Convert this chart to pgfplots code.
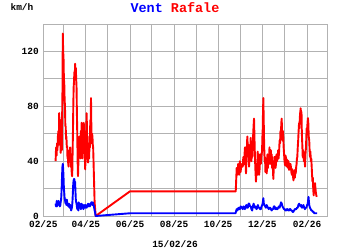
\documentclass[border=0pt]{standalone}
\usepackage{pgfplots}
\pgfplotsset{compat=1.18}
\usepackage{fontspec}
\setmainfont{Liberation Mono}
\definecolor{gridg}{RGB}{178,178,178}
\definecolor{vblue}{RGB}{0,0,255}
\definecolor{rred}{RGB}{255,0,0}
\pgfplotstableread{
d v
17 40
17.7 50
18.4 44
19 53
19.6 48
20.2 58
21 62
21.6 52
22 75
22.6 63
23 60
23.6 70
24 46
24.6 52
25 55
25.6 48
26 70
26.5 90
27 133
27.5 120
28 115
28.5 100
29 97
29.5 85
30 80
30.5 66
31 65
31.5 56
32 58
32.5 50
33 51
33.5 42
34 45
34.5 38
35 36
35.5 46
36 48
36.5 40
37 50
37.5 44
38 42
38.5 36
39 35
39.5 30
40 29
40.5 45
41 60
41.5 80
42 94
42.5 98
43 105
43.5 100
44 111
44.6 104
45 108
45.5 100
46 94
46.5 75
47 60
47.5 40
48 29
48.5 38
49 45
49.5 55
50 58
50.5 46
51 50
51.5 42
52 62
52.5 55
53 68
53.5 50
54 42
54.5 60
55 55
55.5 46
56 68
56.5 60
57 52
57.5 42
58 34
58.5 45
59 55
59.5 65
60 75
60.5 60
61 50
61.5 40
62 39
62.5 52
63 48
63.5 42
64 58
64.5 50
65 70
65.5 60
66 86
66.5 65
67 53
67.5 60
68 58
68.5 52
69 50
70 30
71 10
72.5 0
120 18
266.3 18
267.6 35
268.3 30
269 31
269.6 38
270.2 35
271 30
272 40
272.6 35
273 32
274 37
275 38
276 36
276.8 43
277.4 38
278 38
278.6 46
279.1 50
279.8 40
280.5 31
281.4 45
282.3 58
283 50
283.5 45
284.1 52
284.7 36
285.4 42
286 50
286.5 45
287 57
287.6 48
288 40
288.6 46
289.2 43
289.9 52
290.5 60
291 66
291.6 71
292.1 60
292.5 50
293.4 35
294.3 25
295.3 38
296 30
296.7 47
297.3 40
298 40
298.6 30
299.3 34
300 45
300.5 38
301 38
301.8 44
302.7 47
303.2 58
303.5 60
304 75
304.5 86
305 70
305.5 55
306.2 40
306.8 43
307.4 32
308 35
308.6 42
309.2 31
309.7 40
310.2 45
310.8 35
311.4 43
312.2 38
313 50
313.5 42
314 38
314.8 48
315.5 40
316.1 45
316.7 35
317.3 40
318.3 27
319 36
319.8 43
320.6 43
321.3 35
322 38
322.7 45
323.5 40
324.4 43
325 48
325.6 42
326.3 47
327 55
327.6 53
328.2 62
328.8 60
329.4 68
329.9 71
330.4 60
331 55
331.5 62
332.1 58
332.6 50
333.2 45
333.8 40
334.5 37
335.2 44
336 42
336.7 36
337.4 41
338 38
338.7 35
339.3 40
340 33.6
340.7 38
341.3 34
342 38
342.6 36
343.3 32
344 30
344.8 34
345.5 29
346.2 26
346.9 30
347.5 33
348.2 28
348.8 34
349.3 31
350 36
350.5 38
351 42
351.5 43
352.1 50
352.7 55
353.3 62
353.9 67.7
354.4 64
355 72
355.6 76
356.2 78.6
356.8 72
357.3 76
357.8 60
358.4 52
359 43
359.7 48
360.5 40
361.3 44
362.2 36
362.8 45
363.5 50
364 58
364.5 64
365 60
365.6 68
366.2 71.4
366.7 68
367.3 58
368 55
368.5 48
369.1 43
369.6 47
370.2 40
370.8 42
371.4 36
371.9 30
372.5 25
373 28
373.6 19
374.2 15
374.8 22
375.4 19
376 24
376.6 20
377.2 17
377.8 15
378.4 14
}\rafale
\pgfplotstableread{
d v
17 9
17.6 7
18 8
18.6 11
19 7
19.6 9
20 10
20.6 8
21 11
21.6 9
22 8
22.6 10
23 7
23.6 8
24 10
24.6 12
25 15
25.5 22
26 30
26.5 36
27 38
27.5 34
28 28
28.5 20
29 17
29.5 13
30 12
30.5 10
31 9
31.5 11
32 8
32.5 12
33 10
33.5 8
34 9
34.5 7
35 7
35.5 9
36 8
36.5 6
37 6
37.5 8
38 6
38.5 4
39 5
39.5 6
40 8
40.5 12
41 18
41.5 24
42 26
42.5 27
43 27
43.5 24
44 25
44.5 18
45 12
45.5 10
46 9
46.5 7
47 5
47.5 7
48 8
48.5 4
49 10
49.5 7
50 6
50.5 9
51 8
51.5 6
52 5
52.5 8
53 9
53.5 7
54 6
54.5 8
55 7
55.5 5
56 8
56.5 7
57 6
57.5 8
58 7
58.5 6
59 8
59.5 7
60 6
60.5 7
61 8
61.5 7
62 9
62.5 8
63 7
63.5 8
64 8
64.5 7
65 9
65.5 8
66 9
66.5 10
67 10
67.5 9
68 8
68.5 10
69 9
70 7
72.5 0
120 2
266 2
267.6 5
268.5 4
270 6
271 5
272 5
273 7
275 6
276 5
277 7
278 6
279 5
280 7
281 8
282 6
283 6
284 9
285 9
286 7
287 7
288 5
289 4
290 7
291 9
292 7
293 6
294 7
295 5
296 6
297 8
298 6
299 6
300 5
301 5
302 7
303 8
303.8 10
304.5 13
305.2 9
306 8
307 7
308 6
309 8
310 7
311 6
312 5
313 6
314 6
315 5
316 4
317 5
318 5
319 7
320 7
321 5
322 6
323 5
324 5
325 6
326 7
327 6
328 8
329 10
330 9
331 7
332 6
333 5
334 5
335 4
336 4
337 5
338 5
339 4
340 4
341 5
342 5
343 4
344 4
345 3
346 3
347 4
348 5
349 5
350 5
351 6
352 6
353 8
354 9
355 8
356 7
357 8
358 6
359 7
360 8
361 6
362 5
363 6
364 6
365 8
366 9
366.6 12
367 14
367.5 11
368 8
369 6
370 5
371 4
372 4
373 3
374 3
375 2
376 2
378 2
379 2
}\vent
\begin{document}
\begin{tikzpicture}[x=1bp,y=1bp]
\useasboundingbox (0,0) rectangle (350,250);
\begin{axis}[
  at={(43.3bp,34bp)}, anchor=south west,
  scale only axis, width=284bp, height=192bp,
  xmin=0, xmax=393, ymin=0, ymax=140,
  xtick={0,28,59,89,120,150,181,212,242,273,303,334,365,393},
  xticklabels={02/25,,04/25,,06/25,,08/25,,10/25,,12/25,,02/26,},
  ytick={0,20,40,60,80,100,120,140},
  yticklabels={0,,40,,80,,120,},
  grid=major,
  major grid style={gridg, line width=0.9bp},
  axis line style={gridg, line width=0.9bp},
  major tick length=0pt,
  tick label style={font=\fontsize{9.5}{10}\selectfont\bfseries},
  xticklabel style={yshift=-1.5bp},
  yticklabel style={xshift=-1bp},
  /pgf/number format/assume math mode=true,
  clip=false,
]
\addplot[rred, line width=1.9bp, line join=round] table[x=d,y=v] {\rafale};
\addplot[vblue, line width=1.9bp, line join=round] table[x=d,y=v] {\vent};
\end{axis}
\node[font=\fontsize{13.5}{14}\selectfont\bfseries] at (175,242) {\textcolor{vblue}{Vent} \textcolor{rred}{Rafale}};
\node[font=\fontsize{9.5}{10}\selectfont\bfseries] at (22,243) {km/h};
\node[font=\fontsize{9.5}{10}\selectfont\bfseries] at (175,6) {15/02/26};
\end{tikzpicture}
\end{document}
